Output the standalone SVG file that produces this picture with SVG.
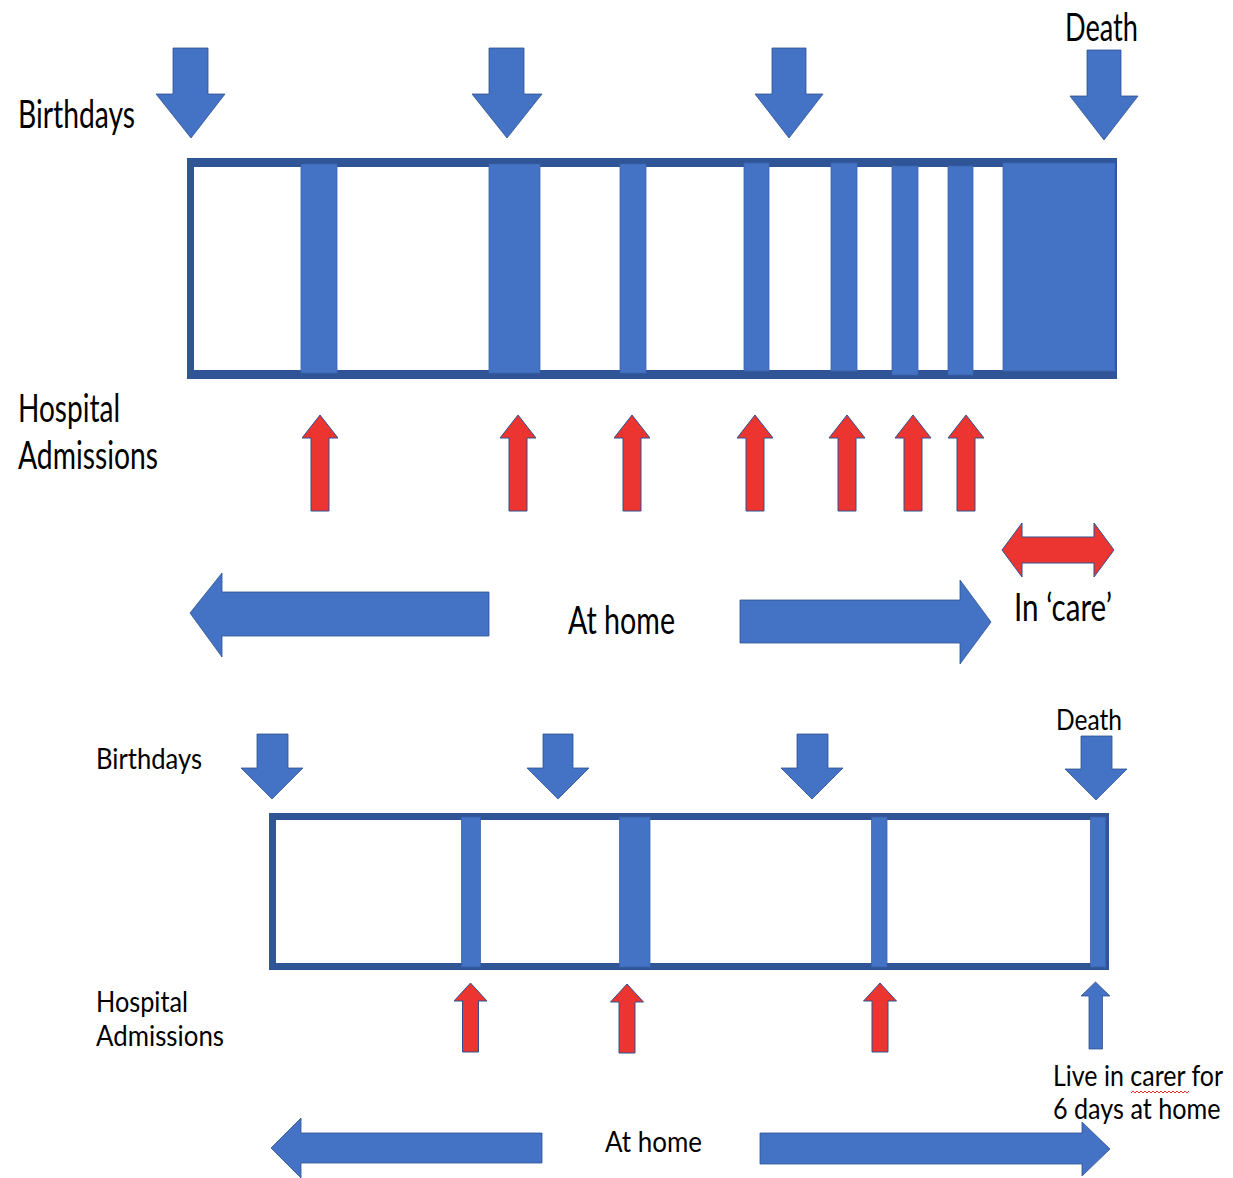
<svg xmlns="http://www.w3.org/2000/svg" xmlns:xlink="http://www.w3.org/1999/xlink" width="1233" height="1178" viewBox="0 0 1233 1178">
  <style>
    .blue { fill: #4472C4; stroke: #2F528F; stroke-width: 0.8; }
    .red { fill: #EC3431; stroke: #2F528F; stroke-width: 1; }
    .frame { fill: #2F5597; }
    .inner { fill: #FFFFFF; }
    .bar { fill: #4472C4; stroke: #3A64B0; stroke-width: 0.8; }
    .lbl { font-family: Lato, "Liberation Sans", sans-serif; fill: #000000; }
    .big { font-size: 38px; }
    .small { font-size: 28px; }
  </style>
  <defs>
    <!-- admission arrow, tip at origin -->
    <path id="admitTop" d="M0,0 L18,23 L9,23 L9,96 L-9,96 L-9,23 L-18,23 Z"/>
    <path id="admitBottom" d="M0,0 L16.5,18 L8,18 L8,69 L-8,69 L-8,18 L-16.5,18 Z"/>
  </defs>
  <rect width="1233" height="1178" fill="#FFFFFF"/>

  <!-- ===== Upper timeline ===== -->
  <g id="top-labels">
    <text class="lbl big" x="1065" y="41" textLength="73" lengthAdjust="spacingAndGlyphs">Death</text>
    <text class="lbl big" x="18" y="128" textLength="117" lengthAdjust="spacingAndGlyphs">Birthdays</text>
    <text class="lbl big" x="18" y="422" textLength="102" lengthAdjust="spacingAndGlyphs">Hospital</text>
    <text class="lbl big" x="18" y="469" textLength="140" lengthAdjust="spacingAndGlyphs">Admissions</text>
    <text class="lbl big" x="568" y="634" textLength="107" lengthAdjust="spacingAndGlyphs">At home</text>
    <text class="lbl big" x="1014" y="621" textLength="98" lengthAdjust="spacingAndGlyphs">In ‘care’</text>
  </g>

  <g id="top-birthdays">
    <polygon class="blue" points="173,48 208,48 208,94 225,94 191,138 156,94 173,94"/>
    <polygon class="blue" points="489,48 524,48 524,94 542,94 507,138 472,94 489,94"/>
    <polygon class="blue" points="772,48 806,48 806,94 823,94 789,138 755,94 772,94"/>
    <polygon class="blue" points="1087,50 1121,50 1121,96 1138,96 1104,140 1070,96 1087,96"/>
  </g>

  <g id="top-timeline">
    <rect class="frame" x="187" y="158" width="930" height="221"/>
    <rect class="inner" x="194" y="167" width="916" height="203"/>
    <rect class="bar" x="301" y="164" width="36" height="209"/>
    <rect class="bar" x="489" y="164" width="51" height="209"/>
    <rect class="bar" x="620" y="164" width="26" height="209"/>
    <rect class="bar" x="744" y="163" width="25" height="208"/>
    <rect class="bar" x="831" y="163" width="26" height="208"/>
    <rect class="bar" x="892" y="166" width="26" height="209"/>
    <rect class="bar" x="948" y="166" width="25" height="209"/>
    <rect class="bar" x="1003" y="163" width="112" height="208"/>
  </g>

  <g id="top-admissions">
    <use xlink:href="#admitTop" class="red" x="320" y="415"/>
    <use xlink:href="#admitTop" class="red" x="518" y="415"/>
    <use xlink:href="#admitTop" class="red" x="632" y="415"/>
    <use xlink:href="#admitTop" class="red" x="755" y="415"/>
    <use xlink:href="#admitTop" class="red" x="847" y="415"/>
    <use xlink:href="#admitTop" class="red" x="913" y="415"/>
    <use xlink:href="#admitTop" class="red" x="966" y="415"/>
  </g>

  <g id="top-spans">
    <polygon class="blue" points="190,613 222,573 222,592 489,592 489,636 222,636 222,657"/>
    <polygon class="blue" points="740,600 960,600 960,580 991,622 960,664 960,643 740,643"/>
    <polygon class="red" points="1002,550 1022,523 1022,537 1094,537 1094,523 1114,550 1094,577 1094,563 1022,563 1022,577"/>
  </g>

  <!-- ===== Lower timeline ===== -->
  <g id="bottom-labels">
    <text class="lbl small" x="1056" y="730" textLength="66" lengthAdjust="spacingAndGlyphs">Death</text>
    <text class="lbl small" x="96" y="769" textLength="106" lengthAdjust="spacingAndGlyphs">Birthdays</text>
    <text class="lbl small" x="96" y="1012" textLength="92" lengthAdjust="spacingAndGlyphs">Hospital</text>
    <text class="lbl small" x="96" y="1046" textLength="128" lengthAdjust="spacingAndGlyphs">Admissions</text>
    <text class="lbl small" x="605" y="1152" textLength="97" lengthAdjust="spacingAndGlyphs">At home</text>
    <!-- narrowed with a horizontal scale so the lines end inside the canvas -->
    <text class="lbl small" transform="translate(1053,1086) scale(0.85,1)" textLength="200" lengthAdjust="spacingAndGlyphs">Live in carer for</text>
    <text class="lbl small" transform="translate(1053,1119) scale(0.85,1)" textLength="197" lengthAdjust="spacingAndGlyphs">6 days at home</text>
    <!-- spell-check squiggle under "carer" -->
    <path d="M1131,1093 l2,-2 l2,2 l2,-2 l2,2 l2,-2 l2,2 l2,-2 l2,2 l2,-2 l2,2 l2,-2 l2,2 l2,-2 l2,2 l2,-2 l2,2 l2,-2 l2,2 l2,-2 l2,2 l2,-2 l2,2 l2,-2 l2,2 l2,-2 l2,2 l2,-2 l2,2 l2,-2" fill="none" stroke="#E0302C" stroke-width="1"/>
  </g>

  <g id="bottom-birthdays">
    <polygon class="blue" points="257,734 288,734 288,768 303,768 272,799 241,768 257,768"/>
    <polygon class="blue" points="543,734 573,734 573,768 589,768 558,799 527,768 543,768"/>
    <polygon class="blue" points="797,734 828,734 828,768 843,768 812,799 781,768 797,768"/>
    <polygon class="blue" points="1081,736 1112,736 1112,769 1127,769 1096,800 1065,769 1081,769"/>
  </g>

  <g id="bottom-timeline">
    <rect class="frame" x="269" y="813" width="840" height="157"/>
    <rect class="inner" x="276" y="820" width="826" height="143"/>
    <rect class="bar" x="461.5" y="817" width="19" height="150"/>
    <rect class="bar" x="619.5" y="817" width="30.5" height="150"/>
    <rect class="bar" x="871.5" y="817" width="15.5" height="150"/>
    <rect class="bar" x="1090.5" y="817" width="15" height="150"/>
  </g>

  <g id="bottom-admissions">
    <use xlink:href="#admitBottom" class="red" x="470.5" y="983"/>
    <use xlink:href="#admitBottom" class="red" x="627" y="984"/>
    <use xlink:href="#admitBottom" class="red" x="880" y="983"/>
    <polygon class="blue" points="1095.5,982 1110,996 1102.5,996 1102.5,1049 1089,1049 1089,996 1081,996"/>
  </g>

  <g id="bottom-spans">
    <polygon class="blue" points="271,1148 301,1118 301,1133 542,1133 542,1163 301,1163 301,1178"/>
    <polygon class="blue" points="760,1133 1082,1133 1082,1122 1110,1149 1082,1176 1082,1164 760,1164"/>
  </g>
</svg>
